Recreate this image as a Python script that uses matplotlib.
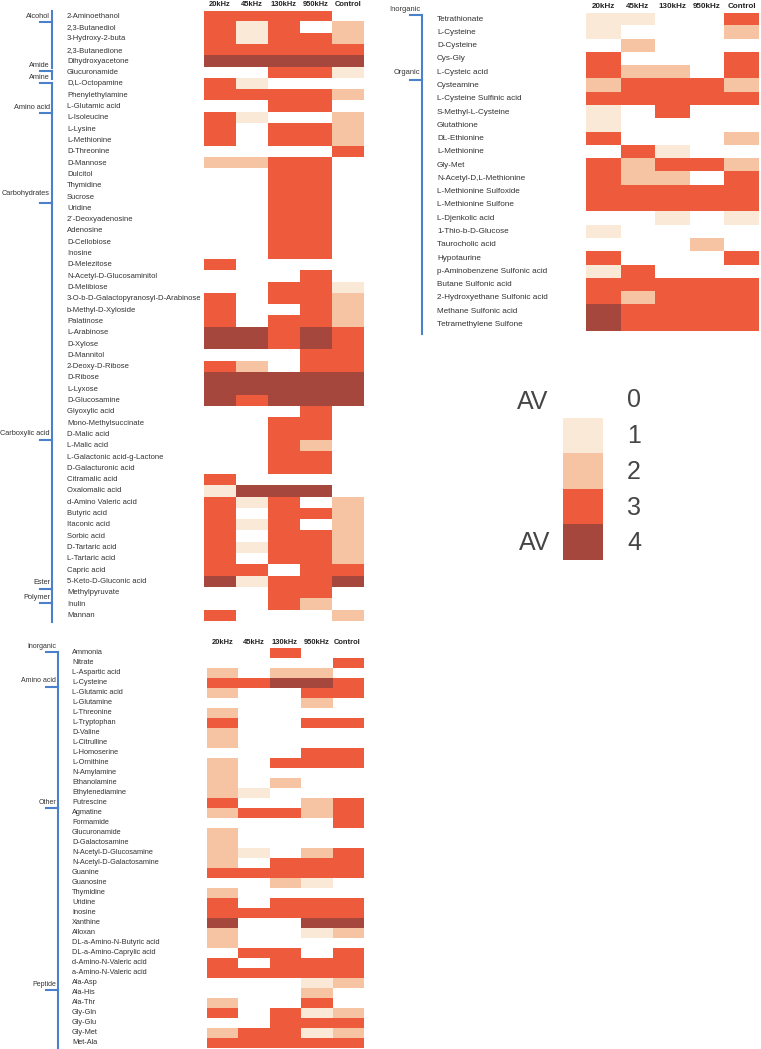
import matplotlib
matplotlib.use('Agg')
import matplotlib.pyplot as plt
from matplotlib.colors import ListedColormap, BoundaryNorm
from matplotlib.lines import Line2D
from matplotlib.transforms import blended_transform_factory
import numpy as np

W, H = 761, 1049

columns = ['20kHz', '45kHz', '130kHz', '950kHz', 'Control']
levels = [0, 1, 2, 3, 4]
level_colors = ['#ffffff', '#f9e9d6', '#f6c3a3', '#ee5a3c', '#a5473d']

# ---------------- Panel A (carbon sources) ----------------
a_names = ['2-Aminoethanol', '2,3-Butanediol', '3-Hydroxy-2-buta', '2,3-Butanedione',
           'Dihydroxyacetone', 'Glucuronamide', 'D,L-Octopamine', 'Phenylethylamine',
           'L-Glutamic acid', 'L-Isoleucine', 'L-Lysine', 'L-Methionine', 'D-Threonine',
           'D-Mannose', 'Dulcitol', 'Thymidine', 'Sucrose', 'Uridine', '2`-Deoxyadenosine',
           'Adenosine', 'D-Cellobiose', 'Inosine', 'D-Melezitose',
           'N-Acetyl-D-Glucosaminitol', 'D-Melibiose',
           '3-O-b-D-Galactopyranosyl-D-Arabinose', 'b-Methyl-D-Xyloside', 'Palatinose',
           'L-Arabinose', 'D-Xylose', 'D-Mannitol', '2-Deoxy-D-Ribose', 'D-Ribose',
           'L-Lyxose', 'D-Glucosamine', 'Glyoxylic acid', 'Mono-Methylsuccinate',
           'D-Malic acid', 'L-Malic acid', 'L-Galactonic acid-g-Lactone',
           'D-Galacturonic acid', 'Citramalic acid', 'Oxalomalic acid',
           'd-Amino Valeric acid', 'Butyric acid', 'Itaconic acid', 'Sorbic acid',
           'D-Tartaric acid', 'L-Tartaric acid', 'Capric acid', '5-Keto-D-Gluconic acid',
           'Methylpyruvate', 'Inulin', 'Mannan']
a_values = [
    [3, 3, 3, 3, 0], [3, 1, 3, 0, 2], [3, 1, 3, 3, 2], [3, 3, 3, 3, 3], [4, 4, 4, 4, 4],
    [0, 0, 3, 3, 1], [3, 1, 0, 0, 0], [3, 3, 3, 3, 2], [0, 0, 3, 3, 0], [3, 1, 0, 0, 2],
    [3, 0, 3, 3, 2], [3, 0, 3, 3, 2], [0, 0, 0, 0, 3],
    [2, 2, 3, 3, 0], [0, 0, 3, 3, 0], [0, 0, 3, 3, 0], [0, 0, 3, 3, 0], [0, 0, 3, 3, 0],
    [0, 0, 3, 3, 0], [0, 0, 3, 3, 0], [0, 0, 3, 3, 0], [0, 0, 3, 3, 0], [3, 0, 0, 0, 0],
    [0, 0, 0, 3, 0], [0, 0, 3, 3, 1], [3, 0, 3, 3, 2], [3, 0, 0, 3, 2], [3, 0, 3, 3, 2],
    [4, 4, 3, 4, 3], [4, 4, 3, 4, 3], [0, 0, 0, 3, 3], [3, 2, 0, 3, 3], [4, 4, 4, 4, 4],
    [4, 4, 4, 4, 4], [4, 3, 4, 4, 4],
    [0, 0, 0, 3, 0], [0, 0, 3, 3, 0], [0, 0, 3, 3, 0], [0, 0, 3, 2, 0], [0, 0, 3, 3, 0],
    [0, 0, 3, 3, 0], [3, 0, 0, 0, 0], [1, 4, 4, 4, 0], [3, 1, 3, 0, 2], [3, 0, 3, 3, 2],
    [3, 1, 3, 0, 2], [3, 0, 3, 3, 2], [3, 1, 3, 3, 2], [3, 0, 3, 3, 2], [3, 3, 0, 3, 3],
    [4, 1, 3, 3, 4], [0, 0, 3, 3, 0], [0, 0, 3, 2, 0], [3, 0, 0, 0, 2]]
a_groups = ['Alcohol', 'Amide', 'Amine', 'Amino acid', 'Carbohydrates',
            'Carboxylic acid', 'Ester', 'Polymer']

# ---------------- Panel B (sulfur sources) ----------------
b_names = ['Tetrathionate', 'L-Cysteine', 'D-Cysteine', 'Cys-Gly', 'L-Cysteic acid',
           'Cysteamine', 'L-Cysteine Sulfinic acid', 'S-Methyl-L-Cysteine', 'Glutathione',
           'DL-Ethionine', 'L-Methionine', 'Gly-Met', 'N-Acetyl-D,L-Methionine',
           'L-Methionine Sulfoxide', 'L-Methionine Sulfone', 'L-Djenkolic acid',
           '1-Thio-b-D-Glucose', 'Taurocholic acid', 'Hypotaurine',
           'p-Aminobenzene Sulfonic acid', 'Butane Sulfonic acid',
           '2-Hydroxyethane Sulfonic acid', 'Methane Sulfonic acid',
           'Tetramethylene Sulfone']
b_values = [
    [1, 1, 0, 0, 3], [1, 0, 0, 0, 2], [0, 2, 0, 0, 0], [3, 0, 0, 0, 3], [3, 2, 2, 0, 3],
    [2, 3, 3, 3, 2], [3, 3, 3, 3, 3], [1, 0, 3, 0, 0], [1, 0, 0, 0, 0], [3, 0, 0, 0, 2],
    [0, 3, 1, 0, 0], [3, 2, 3, 3, 2], [3, 2, 2, 0, 3], [3, 3, 3, 3, 3], [3, 3, 3, 3, 3],
    [0, 0, 1, 0, 1], [1, 0, 0, 0, 0], [0, 0, 0, 2, 0], [3, 0, 0, 0, 3], [1, 3, 0, 0, 0],
    [3, 3, 3, 3, 3], [3, 2, 3, 3, 3], [4, 3, 3, 3, 3], [4, 3, 3, 3, 3]]
b_groups = ['Inorganic', 'Organic']

# ---------------- Panel C (nitrogen sources) ----------------
c_names = ['Ammonia', 'Nitrate', 'L-Aspartic acid', 'L-Cysteine', 'L-Glutamic acid',
           'L-Glutamine', 'L-Threonine', 'L-Tryptophan', 'D-Valine', 'L-Citrulline',
           'L-Homoserine', 'L-Ornithine', 'N-Amylamine', 'Ethanolamine', 'Ethylenediamine',
           'Putrescine', 'Agmatine', 'Formamide', 'Glucuronamide', 'D-Galactosamine',
           'N-Acetyl-D-Glucosamine', 'N-Acetyl-D-Galactosamine', 'Guanine', 'Guanosine',
           'Thymidine', 'Uridine', 'Inosine', 'Xanthine', 'Alloxan',
           'DL-a-Amino-N-Butyric acid', 'DL-a-Amino-Caprylic acid',
           'd-Amino-N-Valeric acid', 'a-Amino-N-Valeric acid', 'Ala-Asp', 'Ala-His',
           'Ala-Thr', 'Gly-Gln', 'Gly-Glu', 'Gly-Met', 'Met-Ala']
c_values = [
    [0, 0, 3, 0, 0], [0, 0, 0, 0, 3], [2, 0, 2, 2, 0], [3, 3, 4, 4, 3], [2, 0, 0, 3, 3],
    [0, 0, 0, 2, 0], [2, 0, 0, 0, 0], [3, 0, 0, 3, 3], [2, 0, 0, 0, 0], [2, 0, 0, 0, 0],
    [0, 0, 0, 3, 3], [2, 0, 3, 3, 3], [2, 0, 0, 0, 0], [2, 0, 2, 0, 0], [2, 1, 0, 0, 0],
    [3, 0, 0, 2, 3], [2, 3, 3, 2, 3], [0, 0, 0, 0, 3], [2, 0, 0, 0, 0], [2, 0, 0, 0, 0],
    [2, 1, 0, 2, 3], [2, 0, 3, 3, 3], [3, 3, 3, 3, 3], [0, 0, 2, 1, 0], [2, 0, 0, 0, 0],
    [3, 0, 3, 3, 3], [3, 3, 3, 3, 3], [4, 0, 0, 4, 4], [2, 0, 0, 1, 2], [2, 0, 0, 0, 0],
    [0, 3, 3, 0, 3], [3, 0, 3, 3, 3], [3, 3, 3, 3, 3], [0, 0, 0, 1, 2], [0, 0, 0, 2, 0],
    [2, 0, 0, 3, 0], [3, 0, 3, 1, 2], [0, 0, 3, 3, 3], [2, 3, 3, 1, 2], [3, 3, 3, 3, 3]]
c_groups = ['Inorganic', 'Amino acid', 'Other', 'Peptide']

legend_levels = [1, 2, 3, 4]
legend_ticks = ['0', '1', '2', '3', '4']

# ---------------- layout (pixels) ----------------
NAME_FONT = ['Liberation Sans Narrow', 'Liberation Sans', 'DejaVu Sans']
BLUE = '#4a80cc'
TXT = '#333333'

layouts = {
    'A': dict(left=204, right=364, top=10.5, bottom=621, name_x=67, br_x=52,
              head_y=5, head_fs=5.4, name_fs=5.5, grp_fs=5.3,
              # label_row, tick_row, v_start, v_end
              grp=[(0.0, 0.55, -0.45, 4.6), (4.35, 4.85, 4.85, 5.55),
                   (5.4, 5.9, 5.9, 7.55), (8.05, 8.6, 7.65, 12.5),
                   (15.7, 16.5, 12.65, 34.5), (36.9, 37.5, 34.65, 53.6),
                   (50.1, 50.65, None, None), (51.45, 51.95, None, None)]),
    'B': dict(left=586, right=759, top=12.5, bottom=331, name_x=437, br_x=422,
              head_y=7, head_fs=5.8, name_fs=5.9, grp_fs=5.4,
              grp=[(-0.7, -0.3, -0.3, 0.45), (4.0, 4.6, 0.6, 23.7)]),
    'C': dict(left=207, right=363, top=648, bottom=1048, name_x=72, br_x=58,
              head_y=643, head_fs=5.4, name_fs=5.3, grp_fs=5.0,
              grp=[(-0.65, -0.1, -0.1, 11.5), (2.8, 3.4, None, None),
                   (15.0, 15.5, 11.7, 32.6), (33.2, 33.7, 32.8, 39.6)]),
}

fig = plt.figure(figsize=(W / 100, H / 100), dpi=100)
cmap = ListedColormap(level_colors)
norm = BoundaryNorm(np.arange(-0.5, 5.5, 1), cmap.N)


def fx(px):
    return px / W


def fy(py):
    return 1 - py / H


def panel(key, names, values, groups):
    L = layouts[key]
    ax = fig.add_axes([fx(L['left']), fy(L['bottom']),
                       (L['right'] - L['left']) / W, (L['bottom'] - L['top']) / H])
    arr = np.array(values)
    ax.imshow(arr, cmap=cmap, norm=norm, aspect='auto', interpolation='nearest')
    ax.set_xlim(-0.5, len(columns) - 0.5)
    ax.set_ylim(len(names) - 0.5, -0.5)
    ax.axis('off')
    # column headers
    trh = blended_transform_factory(ax.transData, fig.transFigure)
    for i, c in enumerate(columns):
        ax.text(i, fy(L['head_y']), c, transform=trh, ha='center', va='center',
                fontsize=L['head_fs'], fontweight='bold', color='#222222',
                family=['Liberation Sans', 'DejaVu Sans'])
    # row names
    trn = blended_transform_factory(fig.transFigure, ax.transData)
    for r, n in enumerate(names):
        ax.text(fx(L['name_x']), r, n, transform=trn, ha='left', va='center',
                fontsize=L['name_fs'], color=TXT, family=NAME_FONT)
    # group brackets
    nrows = len(names)
    pitch = (L['bottom'] - L['top']) / nrows

    def rowpx(r):
        return L['top'] + (r + 0.5) * pitch

    bx = L['br_x']
    for g, (lr, tr, vs, ve) in zip(groups, L['grp']):
        fig.text(fx(bx - 2), fy(rowpx(lr)), g, ha='right', va='center',
                 fontsize=L['grp_fs'], color=TXT, family=NAME_FONT)
        fig.add_artist(Line2D([fx(bx - 12), fx(bx)], [fy(rowpx(tr))] * 2,
                              transform=fig.transFigure, color=BLUE, lw=1.5))
        if vs is not None:
            fig.add_artist(Line2D([fx(bx)] * 2, [fy(rowpx(vs)), fy(rowpx(ve))],
                                  transform=fig.transFigure, color=BLUE, lw=1.5))
    return ax


panel('A', a_names, a_values, a_groups)
panel('B', b_names, b_values, b_groups)
panel('C', c_names, c_values, c_groups)

# ---------------- legend ----------------
lax = fig.add_axes([fx(563), fy(560), 40 / W, 142 / H])
lax.imshow(np.array(legend_levels).reshape(-1, 1), cmap=cmap, norm=norm,
           aspect='auto', interpolation='nearest')
lax.axis('off')
tick_y = [400, 436, 472, 508, 543]
for t, y in zip(legend_ticks, tick_y):
    fig.text(fx(634), fy(y), t, ha='center', va='center', fontsize=18,
             color='#454545', family=['Liberation Sans', 'DejaVu Sans'])
fig.text(fx(533), fy(402), 'AV', ha='center', va='center', fontsize=18,
         color='#454545', family=['Liberation Sans', 'DejaVu Sans'])
fig.text(fx(535), fy(543), 'AV', ha='center', va='center', fontsize=18,
         color='#454545', family=['Liberation Sans', 'DejaVu Sans'])

fig.savefig('out.png', dpi=100, facecolor='white')
